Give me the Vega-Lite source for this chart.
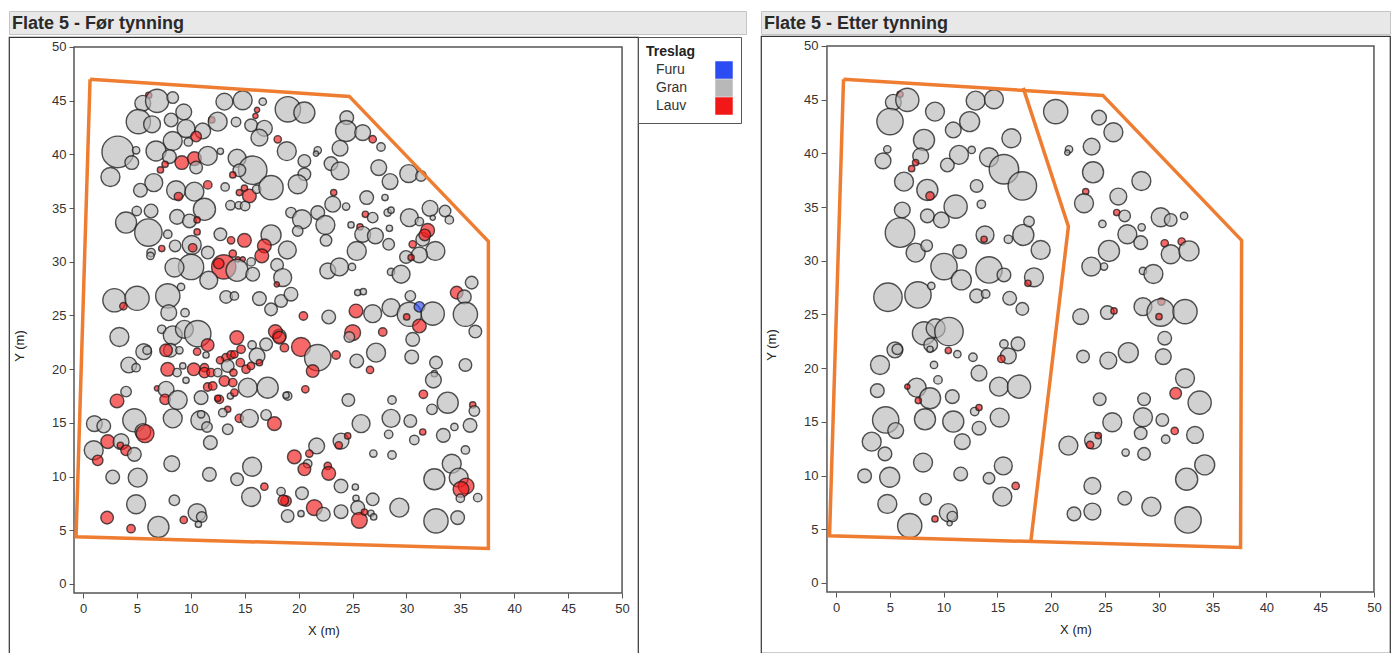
{
  "$schema": "https://vega.github.io/schema/vega-lite/v6.json",
  "padding": {"left": 8, "top": 10, "right": 4, "bottom": 0},
  "background": "white",
  "config": {
    "font": "Liberation Sans",
    "axis": {"labelFont": "Liberation Sans", "titleFont": "Liberation Sans"},
    "legend": {"labelFont": "Liberation Sans", "titleFont": "Liberation Sans"}
  },
  "datasets": {
    "grenseFor": [
      {"g": "a", "o": 1, "x": 0.65, "y": 47.0},
      {"g": "a", "o": 2, "x": 24.7, "y": 45.4},
      {"g": "a", "o": 3, "x": 37.6, "y": 31.9},
      {"g": "a", "o": 4, "x": 37.6, "y": 3.3},
      {"g": "a", "o": 5, "x": -0.65, "y": 4.4},
      {"g": "a", "o": 6, "x": 0.65, "y": 47.0}
    ],
    "grenseEtter": [
      {"g": "a", "o": 1, "x": 0.7, "y": 46.9},
      {"g": "a", "o": 2, "x": 24.8, "y": 45.4},
      {"g": "a", "o": 3, "x": 37.7, "y": 31.9},
      {"g": "a", "o": 4, "x": 37.6, "y": 3.3},
      {"g": "a", "o": 5, "x": -0.6, "y": 4.4},
      {"g": "a", "o": 6, "x": 0.7, "y": 46.9},
      {"g": "b", "o": 1, "x": 17.4, "y": 46.1},
      {"g": "b", "o": 2, "x": 21.6, "y": 33.2},
      {"g": "b", "o": 3, "x": 18.1, "y": 3.8}
    ],
    "for": [
      {"x":6.09,"y":45.5,"d":6,"t":"Lauv"},{"x":5.54,"y":44.76,"d":15,"t":"Gran"},{"x":6.87,"y":44.98,"d":22,"t":"Gran"},
      {"x":8.32,"y":45.29,"d":11,"t":"Gran"},{"x":13.11,"y":44.91,"d":16,"t":"Gran"},{"x":14.81,"y":45.04,"d":18,"t":"Gran"},
      {"x":16.14,"y":44.14,"d":5,"t":"Lauv"},{"x":15.99,"y":43.58,"d":5,"t":"Lauv"},{"x":16.67,"y":44.91,"d":7,"t":"Gran"},
      {"x":19.0,"y":44.2,"d":24,"t":"Gran"},{"x":20.53,"y":43.89,"d":20,"t":"Gran"},{"x":5.13,"y":43.05,"d":23,"t":"Gran"},
      {"x":6.4,"y":42.8,"d":16,"t":"Gran"},{"x":8.17,"y":43.2,"d":13,"t":"Gran"},{"x":9.34,"y":43.95,"d":15,"t":"Gran"},
      {"x":11.94,"y":43.21,"d":6,"t":"Lauv"},{"x":12.49,"y":43.05,"d":18,"t":"Gran"},{"x":14.19,"y":43.02,"d":9,"t":"Gran"},
      {"x":15.59,"y":42.71,"d":12,"t":"Gran"},{"x":16.82,"y":42.43,"d":15,"t":"Gran"},{"x":16.36,"y":41.56,"d":16,"t":"Gran"},
      {"x":9.56,"y":42.4,"d":17,"t":"Gran"},{"x":11.1,"y":42.18,"d":15,"t":"Gran"},{"x":10.49,"y":41.66,"d":10,"t":"Lauv"},
      {"x":18.06,"y":41.4,"d":7,"t":"Lauv"},{"x":8.32,"y":41.25,"d":18,"t":"Gran"},{"x":9.77,"y":41.16,"d":8,"t":"Gran"},
      {"x":3.22,"y":40.23,"d":30,"t":"Gran"},{"x":4.92,"y":40.38,"d":7,"t":"Gran"},{"x":4.52,"y":39.24,"d":13,"t":"Gran"},
      {"x":6.77,"y":40.32,"d":19,"t":"Gran"},{"x":8.01,"y":39.79,"d":13,"t":"Gran"},{"x":9.16,"y":39.24,"d":13,"t":"Lauv"},
      {"x":10.33,"y":39.61,"d":13,"t":"Lauv"},{"x":10.49,"y":38.77,"d":12,"t":"Gran"},{"x":11.57,"y":39.86,"d":18,"t":"Gran"},
      {"x":7.18,"y":38.55,"d":6,"t":"Lauv"},{"x":7.61,"y":39.08,"d":6,"t":"Lauv"},{"x":12.74,"y":40.29,"d":6,"t":"Gran"},
      {"x":14.29,"y":39.64,"d":17,"t":"Gran"},{"x":15.74,"y":38.52,"d":27,"t":"Gran"},{"x":14.5,"y":38.52,"d":12,"t":"Gran"},
      {"x":13.89,"y":38.09,"d":6,"t":"Lauv"},{"x":18.9,"y":40.3,"d":18,"t":"Gran"},{"x":2.54,"y":37.9,"d":18,"t":"Gran"},
      {"x":6.56,"y":37.37,"d":17,"t":"Gran"},{"x":5.32,"y":36.66,"d":13,"t":"Gran"},{"x":8.63,"y":36.66,"d":18,"t":"Gran"},
      {"x":8.85,"y":36.07,"d":8,"t":"Lauv"},{"x":10.33,"y":36.53,"d":18,"t":"Gran"},{"x":11.57,"y":37.16,"d":8,"t":"Lauv"},
      {"x":13.18,"y":36.97,"d":8,"t":"Gran"},{"x":14.97,"y":36.85,"d":6,"t":"Lauv"},{"x":14.5,"y":36.44,"d":6,"t":"Lauv"},
      {"x":15.43,"y":36.13,"d":13,"t":"Lauv"},{"x":16.11,"y":36.75,"d":8,"t":"Gran"},{"x":17.44,"y":36.9,"d":23,"t":"Gran"},
      {"x":11.26,"y":34.89,"d":21,"t":"Gran"},{"x":13.67,"y":35.26,"d":9,"t":"Gran"},{"x":14.44,"y":35.26,"d":7,"t":"Gran"},
      {"x":15.03,"y":35.2,"d":9,"t":"Gran"},{"x":3.99,"y":33.65,"d":20,"t":"Gran"},{"x":4.98,"y":34.73,"d":9,"t":"Gran"},
      {"x":6.31,"y":34.73,"d":13,"t":"Gran"},{"x":8.72,"y":34.18,"d":14,"t":"Gran"},{"x":9.87,"y":33.8,"d":13,"t":"Gran"},
      {"x":10.58,"y":33.9,"d":6,"t":"Lauv"},{"x":6.06,"y":32.72,"d":26,"t":"Gran"},{"x":7.86,"y":32.56,"d":8,"t":"Gran"},
      {"x":10.58,"y":32.78,"d":6,"t":"Lauv"},{"x":12.74,"y":32.56,"d":12,"t":"Gran"},{"x":13.73,"y":32.0,"d":7,"t":"Lauv"},
      {"x":14.97,"y":32.0,"d":13,"t":"Lauv"},{"x":17.44,"y":32.5,"d":19,"t":"Gran"},{"x":16.82,"y":31.48,"d":13,"t":"Lauv"},
      {"x":16.58,"y":30.55,"d":13,"t":"Lauv"},{"x":10.08,"y":31.57,"d":18,"t":"Gran"},{"x":10.17,"y":31.3,"d":8,"t":"Lauv"},
      {"x":8.54,"y":31.48,"d":11,"t":"Gran"},{"x":6.31,"y":30.86,"d":8,"t":"Gran"},{"x":6.25,"y":30.55,"d":7,"t":"Gran"},
      {"x":7.3,"y":31.23,"d":6,"t":"Lauv"},{"x":11.57,"y":30.86,"d":12,"t":"Gran"},{"x":13.89,"y":30.76,"d":7,"t":"Lauv"},
      {"x":14.35,"y":30.23,"d":5,"t":"Lauv"},{"x":14.81,"y":30.23,"d":5,"t":"Lauv"},{"x":10.02,"y":29.52,"d":24,"t":"Gran"},
      {"x":8.48,"y":29.46,"d":18,"t":"Gran"},{"x":13.05,"y":29.52,"d":23,"t":"Lauv"},{"x":12.59,"y":29.83,"d":10,"t":"Lauv"},
      {"x":14.29,"y":29.21,"d":21,"t":"Gran"},{"x":15.74,"y":28.84,"d":13,"t":"Gran"},{"x":15.59,"y":29.99,"d":8,"t":"Gran"},
      {"x":18.0,"y":29.71,"d":12,"t":"Gran"},{"x":18.95,"y":31.1,"d":17,"t":"Gran"},{"x":18.52,"y":28.53,"d":17,"t":"Gran"},
      {"x":17.97,"y":27.9,"d":5,"t":"Lauv"},{"x":11.66,"y":28.28,"d":17,"t":"Gran"},{"x":2.91,"y":26.42,"d":22,"t":"Gran"},
      {"x":5.01,"y":26.6,"d":23,"t":"Gran"},{"x":7.86,"y":26.82,"d":23,"t":"Gran"},{"x":9.09,"y":27.66,"d":7,"t":"Gran"},
      {"x":3.74,"y":25.86,"d":7,"t":"Lauv"},{"x":13.27,"y":26.73,"d":12,"t":"Gran"},{"x":14.04,"y":26.82,"d":8,"t":"Gran"},
      {"x":16.36,"y":26.57,"d":13,"t":"Gran"},{"x":18.37,"y":26.35,"d":12,"t":"Gran"},
      {"x":20.53,"y":39.39,"d":12,"t":"Gran"},{"x":21.77,"y":40.38,"d":7,"t":"Gran"},{"x":21.61,"y":40.07,"d":5,"t":"Gran"},
      {"x":23.0,"y":39.14,"d":13,"t":"Gran"},{"x":23.84,"y":38.46,"d":17,"t":"Gran"},{"x":20.53,"y":38.15,"d":12,"t":"Gran"},
      {"x":19.91,"y":37.22,"d":18,"t":"Gran"},{"x":24.46,"y":43.42,"d":13,"t":"Gran"},{"x":24.4,"y":42.18,"d":20,"t":"Gran"},
      {"x":25.94,"y":42.03,"d":15,"t":"Gran"},{"x":26.87,"y":41.41,"d":7,"t":"Lauv"},{"x":27.64,"y":40.69,"d":8,"t":"Gran"},
      {"x":23.84,"y":40.57,"d":15,"t":"Gran"},{"x":27.43,"y":38.77,"d":15,"t":"Gran"},{"x":28.48,"y":37.47,"d":15,"t":"Gran"},
      {"x":30.21,"y":38.21,"d":17,"t":"Gran"},{"x":31.35,"y":37.99,"d":10,"t":"Gran"},{"x":23.25,"y":36.44,"d":6,"t":"Lauv"},
      {"x":23.16,"y":35.36,"d":15,"t":"Gran"},{"x":24.4,"y":35.14,"d":7,"t":"Gran"},{"x":26.31,"y":35.98,"d":13,"t":"Gran"},
      {"x":28.01,"y":35.98,"d":6,"t":"Gran"},{"x":26.19,"y":34.42,"d":6,"t":"Lauv"},{"x":26.87,"y":34.11,"d":10,"t":"Gran"},
      {"x":28.26,"y":34.58,"d":7,"t":"Gran"},{"x":28.57,"y":34.8,"d":6,"t":"Gran"},{"x":32.19,"y":34.98,"d":15,"t":"Gran"},
      {"x":33.58,"y":34.73,"d":11,"t":"Gran"},{"x":33.98,"y":33.9,"d":8,"t":"Gran"},{"x":30.27,"y":34.11,"d":17,"t":"Gran"},
      {"x":31.2,"y":33.74,"d":8,"t":"Gran"},{"x":32.44,"y":34.1,"d":5,"t":"Gran"},{"x":19.29,"y":34.58,"d":10,"t":"Gran"},
      {"x":20.31,"y":33.96,"d":18,"t":"Gran"},{"x":21.77,"y":34.58,"d":13,"t":"Gran"},{"x":22.48,"y":33.43,"d":18,"t":"Gran"},
      {"x":19.91,"y":32.87,"d":10,"t":"Gran"},{"x":22.54,"y":32.0,"d":11,"t":"Gran"},{"x":24.86,"y":33.43,"d":6,"t":"Gran"},
      {"x":25.69,"y":33.25,"d":6,"t":"Lauv"},{"x":25.94,"y":32.56,"d":15,"t":"Gran"},{"x":27.12,"y":32.41,"d":15,"t":"Gran"},
      {"x":28.42,"y":33.12,"d":6,"t":"Gran"},{"x":28.35,"y":31.63,"d":11,"t":"Gran"},{"x":31.51,"y":32.1,"d":13,"t":"Gran"},
      {"x":31.97,"y":32.93,"d":13,"t":"Lauv"},{"x":31.7,"y":32.5,"d":11,"t":"Lauv"},{"x":30.58,"y":31.63,"d":7,"t":"Lauv"},
      {"x":32.68,"y":31.01,"d":18,"t":"Gran"},{"x":31.2,"y":30.64,"d":15,"t":"Gran"},{"x":29.96,"y":30.45,"d":12,"t":"Gran"},
      {"x":30.43,"y":30.39,"d":6,"t":"Lauv"},{"x":25.39,"y":31.01,"d":18,"t":"Gran"},{"x":22.7,"y":29.15,"d":15,"t":"Gran"},
      {"x":23.78,"y":29.52,"d":17,"t":"Gran"},{"x":24.95,"y":29.52,"d":7,"t":"Gran"},{"x":28.57,"y":29.06,"d":7,"t":"Gran"},
      {"x":29.5,"y":28.84,"d":17,"t":"Gran"},{"x":19.29,"y":26.98,"d":13,"t":"Gran"},{"x":25.48,"y":27.13,"d":6,"t":"Gran"},
      {"x":26.0,"y":27.22,"d":6,"t":"Gran"},{"x":34.66,"y":27.13,"d":12,"t":"Lauv"},{"x":35.37,"y":26.73,"d":13,"t":"Gran"},
      {"x":36.05,"y":28.06,"d":12,"t":"Gran"},{"x":30.36,"y":26.82,"d":10,"t":"Gran"},
      {"x":20.44,"y":24.95,"d":8,"t":"Lauv"},{"x":22.79,"y":24.86,"d":13,"t":"Gran"},{"x":25.32,"y":25.42,"d":13,"t":"Lauv"},
      {"x":26.87,"y":25.17,"d":17,"t":"Gran"},{"x":28.57,"y":25.73,"d":17,"t":"Gran"},{"x":30.27,"y":25.11,"d":23,"t":"Gran"},
      {"x":31.2,"y":25.8,"d":10,"t":"Furu"},{"x":30.02,"y":24.86,"d":6,"t":"Lauv"},{"x":31.2,"y":24.02,"d":13,"t":"Lauv"},
      {"x":32.44,"y":25.17,"d":22,"t":"Gran"},{"x":35.47,"y":25.11,"d":23,"t":"Gran"},{"x":36.39,"y":23.5,"d":12,"t":"Gran"},
      {"x":25.01,"y":23.4,"d":15,"t":"Lauv"},{"x":24.7,"y":23.0,"d":10,"t":"Gran"},{"x":27.8,"y":23.46,"d":8,"t":"Lauv"},
      {"x":30.58,"y":22.78,"d":13,"t":"Gran"},{"x":20.22,"y":22.07,"d":18,"t":"Lauv"},{"x":21.77,"y":21.07,"d":25,"t":"Gran"},
      {"x":21.3,"y":19.83,"d":12,"t":"Lauv"},{"x":23.47,"y":21.32,"d":8,"t":"Lauv"},{"x":27.18,"y":21.54,"d":18,"t":"Gran"},
      {"x":25.39,"y":20.76,"d":13,"t":"Gran"},{"x":26.62,"y":19.93,"d":7,"t":"Lauv"},{"x":30.49,"y":21.14,"d":13,"t":"Gran"},
      {"x":32.74,"y":20.61,"d":12,"t":"Gran"},{"x":35.47,"y":20.39,"d":12,"t":"Gran"},{"x":32.59,"y":19.58,"d":6,"t":"Gran"},
      {"x":32.5,"y":18.99,"d":15,"t":"Gran"},{"x":20.62,"y":18.13,"d":7,"t":"Lauv"},{"x":24.61,"y":17.13,"d":12,"t":"Gran"},
      {"x":28.66,"y":17.13,"d":8,"t":"Gran"},{"x":31.57,"y":17.66,"d":8,"t":"Lauv"},{"x":33.83,"y":16.88,"d":20,"t":"Gran"},
      {"x":32.37,"y":16.26,"d":10,"t":"Gran"},{"x":36.15,"y":16.67,"d":6,"t":"Lauv"},{"x":36.3,"y":16.11,"d":10,"t":"Gran"},
      {"x":25.79,"y":14.93,"d":17,"t":"Gran"},{"x":28.57,"y":15.42,"d":17,"t":"Gran"},{"x":30.36,"y":15.18,"d":12,"t":"Gran"},
      {"x":28.35,"y":13.93,"d":8,"t":"Gran"},{"x":31.51,"y":14.15,"d":6,"t":"Lauv"},{"x":30.73,"y":13.41,"d":9,"t":"Gran"},
      {"x":33.42,"y":13.84,"d":13,"t":"Gran"},{"x":34.45,"y":14.62,"d":7,"t":"Gran"},{"x":35.9,"y":14.77,"d":13,"t":"Gran"},
      {"x":35.47,"y":12.48,"d":8,"t":"Gran"},{"x":23.93,"y":13.31,"d":15,"t":"Gran"},{"x":24.55,"y":13.78,"d":6,"t":"Lauv"},
      {"x":23.72,"y":12.91,"d":7,"t":"Lauv"},{"x":21.67,"y":12.85,"d":15,"t":"Gran"},{"x":20.99,"y":12.14,"d":7,"t":"Lauv"},
      {"x":19.6,"y":11.83,"d":13,"t":"Lauv"},{"x":20.84,"y":11.2,"d":8,"t":"Gran"},{"x":20.53,"y":10.68,"d":12,"t":"Lauv"},
      {"x":22.7,"y":10.99,"d":7,"t":"Lauv"},{"x":22.79,"y":10.3,"d":13,"t":"Lauv"},{"x":26.93,"y":12.14,"d":7,"t":"Gran"},
      {"x":28.66,"y":12.01,"d":8,"t":"Gran"},{"x":32.59,"y":9.75,"d":20,"t":"Gran"},{"x":34.2,"y":11.2,"d":18,"t":"Gran"},
      {"x":34.85,"y":9.9,"d":18,"t":"Gran"},{"x":35.53,"y":9.12,"d":15,"t":"Lauv"},{"x":35.06,"y":8.81,"d":15,"t":"Lauv"},
      {"x":35.0,"y":7.98,"d":8,"t":"Gran"},{"x":36.61,"y":8.04,"d":8,"t":"Gran"},{"x":23.93,"y":9.12,"d":13,"t":"Gran"},
      {"x":25.26,"y":9.03,"d":6,"t":"Gran"},{"x":25.32,"y":7.98,"d":6,"t":"Gran"},{"x":26.87,"y":7.88,"d":12,"t":"Gran"},
      {"x":20.31,"y":8.44,"d":12,"t":"Gran"},{"x":21.46,"y":7.11,"d":15,"t":"Lauv"},{"x":22.29,"y":6.49,"d":13,"t":"Gran"},
      {"x":20.22,"y":6.55,"d":6,"t":"Gran"},{"x":18.98,"y":6.33,"d":12,"t":"Gran"},{"x":23.93,"y":6.73,"d":13,"t":"Gran"},
      {"x":25.48,"y":7.11,"d":13,"t":"Gran"},{"x":25.63,"y":5.93,"d":15,"t":"Lauv"},{"x":26.1,"y":6.7,"d":6,"t":"Lauv"},
      {"x":26.71,"y":6.58,"d":6,"t":"Gran"},{"x":26.96,"y":6.24,"d":6,"t":"Gran"},{"x":29.34,"y":7.11,"d":18,"t":"Gran"},
      {"x":32.74,"y":5.87,"d":23,"t":"Gran"},{"x":34.75,"y":6.18,"d":13,"t":"Gran"},{"x":18.83,"y":7.73,"d":10,"t":"Lauv"},
      {"x":18.98,"y":17.5,"d":8,"t":"Gran"},
      {"x":7.95,"y":25.26,"d":15,"t":"Gran"},{"x":9.46,"y":25.26,"d":8,"t":"Gran"},{"x":17.44,"y":25.57,"d":12,"t":"Gran"},
      {"x":3.37,"y":23.0,"d":18,"t":"Gran"},{"x":7.3,"y":23.71,"d":8,"t":"Gran"},{"x":8.32,"y":23.15,"d":18,"t":"Gran"},
      {"x":9.4,"y":23.71,"d":17,"t":"Gran"},{"x":10.64,"y":23.31,"d":25,"t":"Gran"},{"x":11.56,"y":22.25,"d":12,"t":"Lauv"},
      {"x":8.1,"y":21.76,"d":13,"t":"Gran"},{"x":7.7,"y":21.76,"d":12,"t":"Lauv"},{"x":8.94,"y":21.76,"d":7,"t":"Gran"},
      {"x":10.58,"y":21.63,"d":7,"t":"Lauv"},{"x":11.41,"y":21.32,"d":6,"t":"Gran"},{"x":5.63,"y":21.63,"d":15,"t":"Gran"},
      {"x":5.94,"y":21.76,"d":8,"t":"Gran"},{"x":14.26,"y":22.94,"d":13,"t":"Lauv"},{"x":14.66,"y":21.85,"d":8,"t":"Lauv"},
      {"x":15.68,"y":22.25,"d":8,"t":"Gran"},{"x":16.98,"y":22.31,"d":12,"t":"Gran"},{"x":16.14,"y":21.23,"d":15,"t":"Gran"},
      {"x":18.21,"y":23.09,"d":13,"t":"Gran"},{"x":17.84,"y":23.5,"d":13,"t":"Lauv"},{"x":18.21,"y":22.94,"d":12,"t":"Lauv"},
      {"x":18.68,"y":22.0,"d":8,"t":"Lauv"},{"x":13.26,"y":21.07,"d":8,"t":"Lauv"},{"x":13.73,"y":21.32,"d":8,"t":"Lauv"},
      {"x":14.04,"y":21.38,"d":7,"t":"Lauv"},{"x":4.24,"y":20.39,"d":15,"t":"Gran"},{"x":4.92,"y":20.14,"d":8,"t":"Gran"},
      {"x":7.85,"y":19.99,"d":13,"t":"Lauv"},{"x":8.72,"y":19.68,"d":8,"t":"Gran"},{"x":9.25,"y":20.3,"d":6,"t":"Gran"},
      {"x":10.27,"y":19.99,"d":12,"t":"Lauv"},{"x":11.26,"y":20.14,"d":8,"t":"Lauv"},{"x":11.26,"y":19.68,"d":10,"t":"Lauv"},
      {"x":11.87,"y":19.68,"d":8,"t":"Lauv"},{"x":12.49,"y":19.68,"d":8,"t":"Gran"},{"x":12.71,"y":20.83,"d":7,"t":"Lauv"},
      {"x":13.42,"y":20.3,"d":12,"t":"Gran"},{"x":13.95,"y":19.68,"d":7,"t":"Lauv"},{"x":14.59,"y":20.61,"d":8,"t":"Lauv"},
      {"x":15.12,"y":19.99,"d":8,"t":"Lauv"},{"x":15.58,"y":20.3,"d":7,"t":"Lauv"},{"x":16.36,"y":20.61,"d":6,"t":"Lauv"},
      {"x":9.55,"y":18.96,"d":6,"t":"Gran"},{"x":13.11,"y":18.9,"d":10,"t":"Lauv"},{"x":13.89,"y":18.75,"d":8,"t":"Lauv"},
      {"x":11.56,"y":18.34,"d":8,"t":"Lauv"},{"x":12.03,"y":18.44,"d":8,"t":"Lauv"},{"x":15.28,"y":18.28,"d":18,"t":"Gran"},
      {"x":17.13,"y":18.28,"d":20,"t":"Gran"},{"x":18.83,"y":17.57,"d":6,"t":"Gran"},{"x":6.86,"y":18.22,"d":5,"t":"Lauv"},
      {"x":7.7,"y":18.13,"d":15,"t":"Gran"},{"x":7.61,"y":17.19,"d":10,"t":"Lauv"},{"x":8.78,"y":17.13,"d":18,"t":"Gran"},
      {"x":10.95,"y":17.35,"d":13,"t":"Gran"},{"x":12.65,"y":17.19,"d":8,"t":"Lauv"},{"x":13.67,"y":17.5,"d":6,"t":"Gran"},
      {"x":14.04,"y":17.82,"d":7,"t":"Lauv"},{"x":12.49,"y":17.29,"d":6,"t":"Lauv"},{"x":13.42,"y":16.26,"d":6,"t":"Lauv"},
      {"x":12.96,"y":15.95,"d":8,"t":"Gran"},{"x":3.15,"y":17.04,"d":13,"t":"Lauv"},{"x":3.99,"y":17.91,"d":10,"t":"Gran"},
      {"x":8.32,"y":15.42,"d":18,"t":"Gran"},{"x":10.88,"y":15.24,"d":18,"t":"Gran"},{"x":10.95,"y":15.8,"d":7,"t":"Gran"},
      {"x":11.5,"y":14.62,"d":10,"t":"Gran"},{"x":13.42,"y":14.4,"d":10,"t":"Gran"},{"x":14.5,"y":15.42,"d":8,"t":"Lauv"},
      {"x":15.43,"y":15.42,"d":17,"t":"Gran"},{"x":16.98,"y":15.74,"d":10,"t":"Gran"},{"x":17.75,"y":14.93,"d":13,"t":"Lauv"},
      {"x":1.05,"y":14.93,"d":15,"t":"Gran"},{"x":1.92,"y":14.71,"d":13,"t":"Gran"},{"x":4.76,"y":15.24,"d":22,"t":"Gran"},
      {"x":5.55,"y":14.19,"d":15,"t":"Gran"},{"x":5.75,"y":14.0,"d":17,"t":"Lauv"},{"x":2.29,"y":13.25,"d":13,"t":"Lauv"},
      {"x":3.53,"y":13.25,"d":15,"t":"Gran"},{"x":3.46,"y":12.91,"d":6,"t":"Lauv"},{"x":3.99,"y":12.45,"d":10,"t":"Lauv"},
      {"x":4.76,"y":12.07,"d":13,"t":"Gran"},{"x":0.99,"y":12.45,"d":18,"t":"Gran"},{"x":1.36,"y":11.51,"d":10,"t":"Lauv"},
      {"x":11.81,"y":13.16,"d":13,"t":"Gran"},{"x":2.75,"y":9.96,"d":13,"t":"Gran"},{"x":5.07,"y":9.9,"d":18,"t":"Gran"},
      {"x":8.23,"y":11.2,"d":15,"t":"Gran"},{"x":11.72,"y":10.21,"d":13,"t":"Gran"},{"x":14.29,"y":9.75,"d":12,"t":"Gran"},
      {"x":15.68,"y":10.92,"d":18,"t":"Gran"},{"x":15.59,"y":8.1,"d":18,"t":"Gran"},{"x":16.82,"y":9.06,"d":7,"t":"Lauv"},
      {"x":18.37,"y":8.6,"d":8,"t":"Gran"},{"x":18.58,"y":7.79,"d":10,"t":"Lauv"},{"x":4.92,"y":7.42,"d":18,"t":"Gran"},
      {"x":8.47,"y":7.79,"d":10,"t":"Gran"},{"x":2.23,"y":6.18,"d":12,"t":"Lauv"},{"x":4.45,"y":5.15,"d":8,"t":"Lauv"},
      {"x":6.99,"y":5.31,"d":20,"t":"Gran"},{"x":9.34,"y":5.96,"d":7,"t":"Lauv"},{"x":10.58,"y":6.64,"d":17,"t":"Gran"},
      {"x":11.01,"y":6.24,"d":10,"t":"Gran"},{"x":10.7,"y":5.55,"d":6,"t":"Gran"}
    ],
    "etter": [
      {"x":5.95,"y":45.5,"d":6,"t":"Lauv"},{"x":5.33,"y":44.76,"d":15,"t":"Gran"},{"x":6.63,"y":44.98,"d":22,"t":"Gran"},
      {"x":5.02,"y":42.96,"d":25,"t":"Gran"},{"x":9.2,"y":43.89,"d":18,"t":"Gran"},{"x":12.98,"y":44.91,"d":18,"t":"Gran"},
      {"x":14.68,"y":45.04,"d":18,"t":"Gran"},{"x":12.42,"y":42.96,"d":19,"t":"Gran"},{"x":10.9,"y":42.18,"d":15,"t":"Gran"},
      {"x":16.3,"y":41.41,"d":18,"t":"Gran"},{"x":8.18,"y":41.25,"d":20,"t":"Gran"},{"x":4.77,"y":40.38,"d":7,"t":"Gran"},
      {"x":4.37,"y":39.3,"d":15,"t":"Gran"},{"x":7.87,"y":39.76,"d":15,"t":"Gran"},{"x":7.4,"y":39.14,"d":6,"t":"Lauv"},
      {"x":7.03,"y":38.58,"d":6,"t":"Lauv"},{"x":11.43,"y":39.86,"d":18,"t":"Gran"},{"x":10.35,"y":38.92,"d":13,"t":"Gran"},
      {"x":12.61,"y":40.32,"d":7,"t":"Gran"},{"x":14.22,"y":39.64,"d":18,"t":"Gran"},{"x":15.61,"y":38.52,"d":28,"t":"Gran"},
      {"x":17.32,"y":36.97,"d":27,"t":"Gran"},{"x":6.32,"y":37.37,"d":18,"t":"Gran"},{"x":8.49,"y":36.6,"d":20,"t":"Gran"},
      {"x":8.74,"y":36.04,"d":8,"t":"Lauv"},{"x":13.07,"y":36.97,"d":12,"t":"Gran"},{"x":13.51,"y":35.26,"d":8,"t":"Gran"},
      {"x":11.12,"y":35.04,"d":22,"t":"Gran"},{"x":6.16,"y":34.73,"d":15,"t":"Gran"},{"x":8.49,"y":34.18,"d":13,"t":"Gran"},
      {"x":9.79,"y":33.8,"d":15,"t":"Gran"},{"x":5.95,"y":32.62,"d":28,"t":"Gran"},{"x":7.4,"y":30.76,"d":18,"t":"Gran"},
      {"x":8.43,"y":31.41,"d":11,"t":"Gran"},{"x":11.49,"y":30.86,"d":13,"t":"Gran"},{"x":10.04,"y":29.46,"d":25,"t":"Gran"},
      {"x":11.65,"y":28.22,"d":19,"t":"Gran"},{"x":13.85,"y":32.41,"d":17,"t":"Gran"},{"x":13.76,"y":32.0,"d":6,"t":"Lauv"},
      {"x":16.02,"y":32.0,"d":8,"t":"Gran"},{"x":17.41,"y":32.41,"d":20,"t":"Gran"},{"x":17.94,"y":33.65,"d":10,"t":"Gran"},
      {"x":19.02,"y":31.01,"d":18,"t":"Gran"},{"x":14.22,"y":29.15,"d":25,"t":"Gran"},{"x":15.61,"y":28.68,"d":13,"t":"Gran"},
      {"x":18.4,"y":28.46,"d":18,"t":"Gran"},{"x":17.84,"y":27.9,"d":6,"t":"Lauv"},{"x":4.83,"y":26.6,"d":27,"t":"Gran"},
      {"x":7.62,"y":26.82,"d":25,"t":"Gran"},{"x":8.86,"y":27.66,"d":7,"t":"Gran"},{"x":13.07,"y":26.73,"d":13,"t":"Gran"},
      {"x":13.91,"y":26.91,"d":8,"t":"Gran"},{"x":16.14,"y":26.51,"d":13,"t":"Gran"},{"x":17.32,"y":25.52,"d":12,"t":"Gran"},
      {"x":8.18,"y":23.25,"d":22,"t":"Gran"},{"x":9.26,"y":23.72,"d":18,"t":"Gran"},{"x":10.5,"y":23.41,"d":27,"t":"Gran"},
      {"x":8.8,"y":22.17,"d":13,"t":"Gran"},{"x":8.74,"y":21.76,"d":6,"t":"Gran"},{"x":5.48,"y":21.7,"d":15,"t":"Gran"},
      {"x":5.7,"y":21.76,"d":10,"t":"Gran"},{"x":10.44,"y":21.64,"d":6,"t":"Lauv"},{"x":11.28,"y":21.3,"d":7,"t":"Gran"},
      {"x":12.73,"y":21.02,"d":8,"t":"Gran"},{"x":15.61,"y":22.26,"d":8,"t":"Gran"},{"x":16.91,"y":22.26,"d":13,"t":"Gran"},
      {"x":16.02,"y":21.14,"d":15,"t":"Gran"},{"x":15.37,"y":20.86,"d":7,"t":"Lauv"},{"x":4.09,"y":20.3,"d":18,"t":"Gran"},
      {"x":9.11,"y":20.3,"d":7,"t":"Gran"},{"x":13.29,"y":19.53,"d":15,"t":"Gran"},{"x":9.48,"y":18.91,"d":8,"t":"Gran"},
      {"x":3.84,"y":17.91,"d":13,"t":"Gran"},{"x":7.5,"y":18.19,"d":18,"t":"Gran"},{"x":6.63,"y":18.28,"d":5,"t":"Lauv"},
      {"x":8.74,"y":17.2,"d":20,"t":"Gran"},{"x":7.65,"y":16.98,"d":6,"t":"Lauv"},{"x":10.81,"y":17.35,"d":13,"t":"Gran"},
      {"x":15.15,"y":18.28,"d":18,"t":"Gran"},{"x":17.01,"y":18.28,"d":22,"t":"Gran"},{"x":4.62,"y":15.18,"d":25,"t":"Gran"},
      {"x":5.55,"y":14.19,"d":15,"t":"Gran"},{"x":3.32,"y":13.16,"d":18,"t":"Gran"},{"x":4.55,"y":12.02,"d":13,"t":"Gran"},
      {"x":8.27,"y":15.24,"d":20,"t":"Gran"},{"x":10.9,"y":15.03,"d":20,"t":"Gran"},{"x":12.89,"y":15.96,"d":8,"t":"Gran"},
      {"x":13.29,"y":16.33,"d":6,"t":"Lauv"},{"x":13.29,"y":14.41,"d":13,"t":"Gran"},{"x":15.21,"y":15.4,"d":18,"t":"Gran"},
      {"x":11.74,"y":13.16,"d":15,"t":"Gran"},{"x":8.09,"y":11.21,"d":18,"t":"Gran"},{"x":2.66,"y":9.97,"d":13,"t":"Gran"},
      {"x":4.99,"y":9.84,"d":19,"t":"Gran"},{"x":11.59,"y":10.15,"d":13,"t":"Gran"},{"x":14.22,"y":9.75,"d":11,"t":"Gran"},
      {"x":15.55,"y":10.9,"d":17,"t":"Gran"},{"x":16.7,"y":9.04,"d":7,"t":"Lauv"},{"x":15.46,"y":8.04,"d":18,"t":"Gran"},
      {"x":4.77,"y":7.36,"d":18,"t":"Gran"},{"x":8.33,"y":7.8,"d":11,"t":"Gran"},{"x":10.44,"y":6.55,"d":17,"t":"Gran"},
      {"x":10.81,"y":6.18,"d":10,"t":"Gran"},{"x":10.56,"y":5.56,"d":5,"t":"Gran"},{"x":9.2,"y":5.96,"d":6,"t":"Lauv"},
      {"x":6.85,"y":5.34,"d":23,"t":"Gran"},
      {"x":20.42,"y":43.89,"d":23,"t":"Gran"},{"x":24.45,"y":43.33,"d":14,"t":"Gran"},{"x":25.78,"y":41.97,"d":18,"t":"Gran"},
      {"x":21.66,"y":40.38,"d":7,"t":"Gran"},{"x":21.5,"y":40.07,"d":5,"t":"Gran"},{"x":23.76,"y":40.63,"d":16,"t":"Gran"},
      {"x":23.89,"y":38.24,"d":20,"t":"Gran"},{"x":28.38,"y":37.43,"d":18,"t":"Gran"},{"x":23.21,"y":36.44,"d":6,"t":"Lauv"},
      {"x":23.05,"y":35.36,"d":18,"t":"Gran"},{"x":26.24,"y":35.98,"d":16,"t":"Gran"},{"x":26.09,"y":34.49,"d":6,"t":"Lauv"},
      {"x":26.83,"y":34.18,"d":11,"t":"Gran"},{"x":24.76,"y":33.43,"d":7,"t":"Gran"},{"x":28.41,"y":33.12,"d":7,"t":"Gran"},
      {"x":30.18,"y":34.05,"d":18,"t":"Gran"},{"x":31.11,"y":33.8,"d":12,"t":"Gran"},{"x":32.35,"y":34.18,"d":7,"t":"Gran"},
      {"x":27.08,"y":32.47,"d":18,"t":"Gran"},{"x":28.32,"y":31.69,"d":13,"t":"Gran"},{"x":30.55,"y":31.63,"d":7,"t":"Lauv"},
      {"x":32.13,"y":31.79,"d":7,"t":"Lauv"},{"x":31.11,"y":30.61,"d":18,"t":"Gran"},{"x":32.81,"y":30.92,"d":19,"t":"Gran"},
      {"x":25.37,"y":30.92,"d":20,"t":"Gran"},{"x":24.91,"y":29.46,"d":7,"t":"Gran"},{"x":23.73,"y":29.46,"d":18,"t":"Gran"},
      {"x":28.53,"y":29.06,"d":7,"t":"Gran"},{"x":29.5,"y":28.77,"d":18,"t":"Gran"},{"x":22.74,"y":24.8,"d":15,"t":"Gran"},
      {"x":25.22,"y":25.18,"d":13,"t":"Gran"},{"x":25.84,"y":25.33,"d":6,"t":"Lauv"},{"x":28.53,"y":25.73,"d":17,"t":"Gran"},
      {"x":30.24,"y":26.2,"d":7,"t":"Lauv"},{"x":30.18,"y":25.18,"d":26,"t":"Gran"},{"x":30.02,"y":24.8,"d":6,"t":"Lauv"},
      {"x":32.44,"y":25.27,"d":23,"t":"Gran"},{"x":30.55,"y":22.79,"d":13,"t":"Gran"},{"x":30.42,"y":21.08,"d":15,"t":"Gran"},
      {"x":22.96,"y":21.08,"d":12,"t":"Gran"},{"x":25.31,"y":20.71,"d":16,"t":"Gran"},{"x":27.17,"y":21.45,"d":19,"t":"Gran"},
      {"x":32.44,"y":19.06,"d":18,"t":"Gran"},{"x":31.57,"y":17.66,"d":11,"t":"Lauv"},{"x":33.8,"y":16.79,"d":22,"t":"Gran"},
      {"x":24.51,"y":17.11,"d":12,"t":"Gran"},{"x":28.63,"y":17.11,"d":12,"t":"Gran"},{"x":25.68,"y":14.96,"d":18,"t":"Gran"},
      {"x":28.53,"y":15.43,"d":18,"t":"Gran"},{"x":30.33,"y":15.18,"d":12,"t":"Gran"},{"x":28.32,"y":13.94,"d":12,"t":"Gran"},
      {"x":30.64,"y":13.38,"d":8,"t":"Gran"},{"x":31.48,"y":14.16,"d":7,"t":"Lauv"},{"x":33.37,"y":13.78,"d":16,"t":"Gran"},
      {"x":21.6,"y":12.79,"d":18,"t":"Gran"},{"x":23.89,"y":13.26,"d":16,"t":"Gran"},{"x":24.38,"y":13.72,"d":6,"t":"Lauv"},
      {"x":23.61,"y":12.85,"d":7,"t":"Lauv"},{"x":26.92,"y":12.14,"d":7,"t":"Gran"},{"x":28.63,"y":12.02,"d":12,"t":"Gran"},
      {"x":34.27,"y":11.0,"d":19,"t":"Gran"},{"x":32.59,"y":9.66,"d":21,"t":"Gran"},{"x":23.83,"y":9.04,"d":16,"t":"Gran"},
      {"x":26.83,"y":7.89,"d":13,"t":"Gran"},{"x":29.31,"y":7.11,"d":18,"t":"Gran"},{"x":22.12,"y":6.43,"d":13,"t":"Gran"},
      {"x":23.83,"y":6.65,"d":16,"t":"Gran"},{"x":32.72,"y":5.87,"d":25,"t":"Gran"}
    ]
  },
  "hconcat": [
    {
      "spacing": 0,
      "vconcat": [
        {
          "width": 737,
          "height": 23,
          "view": {"fill": "#e8e8e8", "stroke": "#c4c4c4"},
          "data": {"values": [{"tittel": "Flate 5 - Før tynning"}]},
          "mark": {"type": "text", "align": "left", "baseline": "middle", "dx": 3, "dy": 1, "font": "Liberation Sans Narrow, Liberation Sans", "fontSize": 18, "fontWeight": "bold", "color": "#2a2a2a"},
          "encoding": {
            "text": {"field": "tittel"},
            "x": {"datum": 0, "type": "quantitative", "scale": {"domain": [0, 1], "nice": false}, "axis": null},
            "y": {"datum": 0.5, "type": "quantitative", "scale": {"domain": [0, 1], "nice": false}, "axis": null}
          }
        },
        {
          "width": 629,
          "height": 617,
          "view": {"fill": "white", "stroke": "#333", "strokeWidth": 1.2},
          "layer": [
            {
              "data": {"values": [{}]},
              "mark": {"type": "rect", "fill": null, "stroke": "#555", "strokeWidth": 1.5},
              "encoding": {
                "x": {"datum": -0.84, "type": "quantitative", "scale": {"domain": [-6.87, 51.48], "nice": false, "zero": false},
                  "axis": {"title": "X (m)", "orient": "bottom", "offset": -61, "values": [0,5,10,15,20,25,30,35,40,45,50], "domain": false, "grid": false, "tickSize": 5, "tickColor": "#555", "labelFontSize": 13, "labelColor": "#333", "labelPadding": 4, "titleFontSize": 13, "titleFontWeight": "normal", "titleColor": "#222", "titlePadding": 9}},
                "x2": {"datum": 50},
                "y": {"datum": -0.84, "type": "quantitative", "scale": {"domain": [-6.52, 50.93], "nice": false, "zero": false},
                  "axis": {"title": "Y (m)", "orient": "left", "offset": -65, "values": [0,5,10,15,20,25,30,35,40,45,50], "domain": false, "grid": false, "tickSize": 5, "tickColor": "#555", "labelFontSize": 13, "labelColor": "#333", "labelPadding": 3, "titleFontSize": 13, "titleFontWeight": "normal", "titleColor": "#222", "titlePadding": 25}},
                "y2": {"datum": 50}
              }
            },
            {
              "data": {"name": "for"},
              "mark": {"type": "circle", "fillOpacity": 0.65, "stroke": "#1a1a1a", "strokeWidth": 1.4, "strokeOpacity": 0.75},
              "encoding": {
                "x": {"field": "x", "type": "quantitative"},
                "y": {"field": "y", "type": "quantitative"},
                "size": {"field": "d", "type": "quantitative", "scale": {"type": "pow", "exponent": 2, "domain": [0, 30], "range": [0, 1000]}, "legend": null},
                "color": {"field": "t", "type": "nominal", "scale": {"domain": ["Furu", "Gran", "Lauv"], "range": ["#2b4cf2", "#b8b8b8", "#f21818"]},
                  "legend": {"title": "Treslag", "orient": "right", "offset": 0, "strokeColor": "#555", "fillColor": "white", "padding": 8, "titleFontSize": 14, "titleFontWeight": "bold", "titleColor": "#222", "titlePadding": 2, "labelFontSize": 14, "labelColor": "#333", "symbolType": "square", "symbolSize": 306, "symbolStrokeWidth": 0, "symbolOpacity": 1, "rowPadding": 0, "symbolOffset": 69, "labelOffset": -77,
                    "encode": {"title": {"update": {"dx": {"value": 12}}}}}}
              }
            },
            {
              "data": {"name": "grenseFor"},
              "mark": {"type": "line", "color": "#ee7d31", "strokeWidth": 3.5, "strokeJoin": "miter"},
              "encoding": {
                "x": {"field": "x", "type": "quantitative"},
                "y": {"field": "y", "type": "quantitative"},
                "detail": {"field": "g"},
                "order": {"field": "o", "type": "quantitative"}
              }
            }
          ]
        }
      ],
      "resolve": {"scale": {"color": "independent", "x": "independent", "y": "independent"}, "legend": {"color": "independent"}}
    },
    {
      "spacing": 0,
      "vconcat": [
        {
          "width": 629,
          "height": 23,
          "view": {"fill": "#e8e8e8", "stroke": "#c4c4c4"},
          "data": {"values": [{"tittel": "Flate 5 - Etter tynning"}]},
          "mark": {"type": "text", "align": "left", "baseline": "middle", "dx": 3, "dy": 1, "font": "Liberation Sans Narrow, Liberation Sans", "fontSize": 18, "fontWeight": "bold", "color": "#2a2a2a"},
          "encoding": {
            "text": {"field": "tittel"},
            "x": {"datum": 0, "type": "quantitative", "scale": {"domain": [0, 1], "nice": false}, "axis": null},
            "y": {"datum": 0.5, "type": "quantitative", "scale": {"domain": [0, 1], "nice": false}, "axis": null}
          }
        },
        {
          "width": 629,
          "height": 617,
          "view": {"fill": "white", "stroke": "#333", "strokeWidth": 1.2},
          "layer": [
            {
              "data": {"values": [{}]},
              "mark": {"type": "rect", "fill": null, "stroke": "#555", "strokeWidth": 1.5},
              "encoding": {
                "x": {"datum": -0.84, "type": "quantitative", "scale": {"domain": [-6.97, 51.49], "nice": false, "zero": false},
                  "axis": {"title": "X (m)", "orient": "bottom", "offset": -61, "values": [0,5,10,15,20,25,30,35,40,45,50], "domain": false, "grid": false, "tickSize": 5, "tickColor": "#555", "labelFontSize": 13, "labelColor": "#333", "labelPadding": 4, "titleFontSize": 13, "titleFontWeight": "normal", "titleColor": "#222", "titlePadding": 9}},
                "x2": {"datum": 50},
                "y": {"datum": -0.84, "type": "quantitative", "scale": {"domain": [-6.52, 50.93], "nice": false, "zero": false},
                  "axis": {"title": "Y (m)", "orient": "left", "offset": -65, "values": [0,5,10,15,20,25,30,35,40,45,50], "domain": false, "grid": false, "tickSize": 5, "tickColor": "#555", "labelFontSize": 13, "labelColor": "#333", "labelPadding": 3, "titleFontSize": 13, "titleFontWeight": "normal", "titleColor": "#222", "titlePadding": 25}},
                "y2": {"datum": 50}
              }
            },
            {
              "data": {"name": "etter"},
              "mark": {"type": "circle", "fillOpacity": 0.65, "stroke": "#1a1a1a", "strokeWidth": 1.4, "strokeOpacity": 0.75},
              "encoding": {
                "x": {"field": "x", "type": "quantitative"},
                "y": {"field": "y", "type": "quantitative"},
                "size": {"field": "d", "type": "quantitative", "scale": {"type": "pow", "exponent": 2, "domain": [0, 30], "range": [0, 1000]}, "legend": null},
                "color": {"field": "t", "type": "nominal", "scale": {"domain": ["Furu", "Gran", "Lauv"], "range": ["#2b4cf2", "#b8b8b8", "#f21818"]}, "legend": null}
              }
            },
            {
              "data": {"name": "grenseEtter"},
              "mark": {"type": "line", "color": "#ee7d31", "strokeWidth": 3.5, "strokeJoin": "miter"},
              "encoding": {
                "x": {"field": "x", "type": "quantitative"},
                "y": {"field": "y", "type": "quantitative"},
                "detail": {"field": "g"},
                "order": {"field": "o", "type": "quantitative"}
              }
            }
          ]
        }
      ],
      "resolve": {"scale": {"color": "independent", "x": "independent", "y": "independent"}, "legend": {"color": "independent"}}
    }
  ],
  "spacing": 13,
  "resolve": {"scale": {"color": "independent", "x": "independent", "y": "independent", "size": "independent"}, "legend": {"color": "independent"}}
}
